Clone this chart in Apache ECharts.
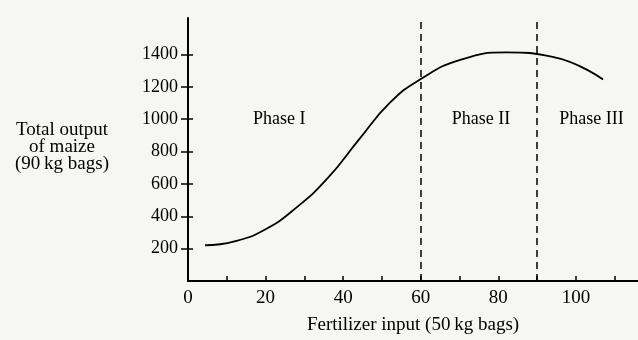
<!DOCTYPE html>
<html>
<head>
<meta charset="utf-8">
<script src="https://cdn.jsdelivr.net/npm/echarts@6/dist/echarts.min.js"></script>
<style>html,body{margin:0;padding:0;background:#f6f6f4;}#c{width:638px;height:340px;}</style>
</head>
<body>
<div id="c"></div>
<script>
// Data
const fertilizer = [4.4, 12, 20, 28, 36, 44, 52, 60, 70, 82, 94, 107];
const maizeOutput = [221, 245, 320, 455, 635, 872, 1100, 1248, 1365, 1412, 1385, 1245];
const phaseBoundaries = [60, 90];
const phaseNames = ['Phase I', 'Phase II', 'Phase III'];
const phaseLabelX = [23.5, 75.5, 104];
const phaseLabelY = [1000, 1000, 1000];
const xTickValues = [10, 20, 30, 40, 50, 60, 70, 80, 90, 100, 110];
const xLabelValues = [0, 20, 40, 60, 80, 100];
const yTickValues = [200, 400, 600, 800, 1000, 1200, 1400];
const xAxisName = 'Fertilizer input (50\u2009kg bags)';
const yAxisName = 'Total output\nof maize\n(90\u2009kg bags)';

const FONT = '"Liberation Serif", "DejaVu Serif", serif';
const INK = '#000000';
const chart = echarts.init(document.getElementById('c'), null, {renderer: 'canvas'});
chart.setOption({
  backgroundColor: '#f6f6f4',
  animation: false,
  grid: {left: 188, top: 18, right: 0, bottom: 57},
  xAxis: {
    type: 'value', min: 0, max: 116, interval: 10,
    name: xAxisName, nameLocation: 'middle', nameGap: 35,
    nameTextStyle: {fontFamily: FONT, fontSize: 19, color: INK},
    axisLine: {show: true, lineStyle: {color: INK, width: 2}},
    axisTick: {show: true, inside: true, length: 5, customValues: xTickValues, lineStyle: {color: INK, width: 1.5}},
    axisLabel: {customValues: xLabelValues, formatter: v => String(v), margin: 8, fontFamily: FONT, fontSize: 19, color: INK},
    splitLine: {show: false}
  },
  yAxis: [{
    type: 'value', min: 0, max: 1625, interval: 200,
    axisLine: {show: true, lineStyle: {color: INK, width: 2}},
    axisTick: {show: true, inside: false, length: 7, customValues: yTickValues, lineStyle: {color: INK, width: 1.5}},
    axisLabel: {customValues: yTickValues, formatter: v => String(v), margin: 10, fontFamily: FONT, fontSize: 18, color: INK},
    splitLine: {show: false}
  }, {
    type: 'value', min: 0, max: 1625, interval: 200, position: 'left',
    axisLine: {show: false},
    axisTick: {show: true, inside: true, length: 5, customValues: yTickValues, lineStyle: {color: INK, width: 1.5}},
    axisLabel: {show: false},
    splitLine: {show: false}
  }],
  graphic: [{
    type: 'text', x: 62, y: 122,
    style: {text: yAxisName, font: '19px ' + FONT, fill: INK, align: 'center', textAlign: 'center', lineHeight: 17}
  }],
  series: [{
    type: 'line', smooth: 0.5, showSymbol: false, symbol: 'none',
    data: fertilizer.map((x, i) => [x, maizeOutput[i]]),
    lineStyle: {color: INK, width: 1.8},
    markLine: {
      silent: true, symbol: 'none', label: {show: false},
      lineStyle: {color: INK, width: 1.5, type: [7, 5]},
      data: phaseBoundaries.map(v => ({xAxis: v}))
    },
    markPoint: {
      silent: true, symbol: 'circle', symbolSize: 0,
      itemStyle: {color: INK},
      label: {show: true, position: 'inside', formatter: p => p.name, fontFamily: FONT, fontSize: 18, color: INK, textBorderWidth: 0, opacity: 1},
      data: phaseNames.map((n, i) => ({name: n, coord: [phaseLabelX[i], phaseLabelY[i]]}))
    }
  }]
});
</script>
</body>
</html>
